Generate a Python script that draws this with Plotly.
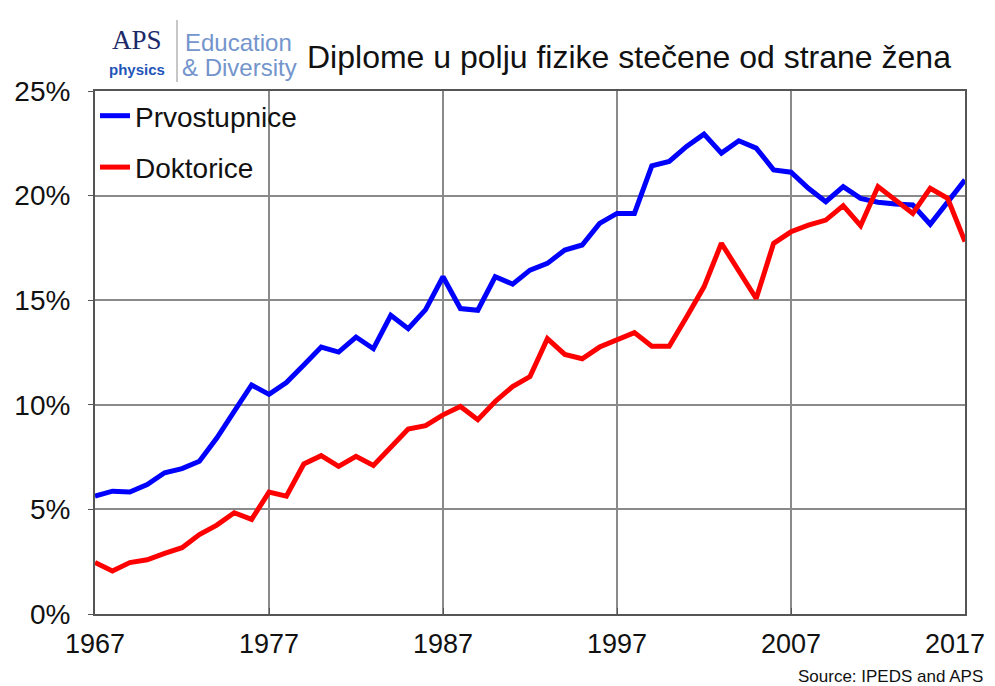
import plotly.graph_objects as go

years = list(range(1967, 2018))
prvostupnice = [5.63, 5.87, 5.83, 6.19, 6.75, 6.95, 7.3, 8.41, 9.68, 10.95,
                10.5, 11.06, 11.9, 12.76, 12.52, 13.24, 12.68, 14.28, 13.64, 14.55,
                16.12, 14.6, 14.52, 16.12, 15.77, 16.44, 16.76, 17.4, 17.64, 18.67,
                19.15, 19.15, 21.42, 21.63, 22.35, 22.94, 22.03, 22.62, 22.27, 21.23,
                21.12, 20.35, 19.71, 20.43, 19.87, 19.68, 19.6, 19.55, 18.63, 19.71,
                20.75]
doktorice = [2.46, 2.06, 2.46, 2.59, 2.9, 3.17, 3.8, 4.25, 4.84, 4.52,
             5.83, 5.63, 7.17, 7.57, 7.06, 7.54, 7.1, 7.94, 8.84, 9.0,
             9.52, 9.92, 9.29, 10.16, 10.87, 11.35, 13.16, 12.41, 12.2, 12.76,
             13.08, 13.45, 12.8, 12.8, 14.2, 15.64, 17.72, 16.44, 15.08, 17.72,
             18.27, 18.59, 18.83, 19.52, 18.56, 20.43, 19.79, 19.15, 20.35, 19.87,
             17.8]
x_ticks = [1967, 1977, 1987, 1997, 2007, 2017]
y_ticks = [0, 5, 10, 15, 20, 25]
y_labels = ["0%", "5%", "10%", "15%", "20%", "25%"]

title_text = "Diplome u polju fizike stečene od strane žena"
source_text = "Source: IPEDS and APS"

# page offset (browser body margin)
OFF = 8
W, H = 995, 686 - OFF
# plot area in page pixels: x 95..965, y 91..614
L = 95 - OFF
T = 91 - OFF
R = W - (965 - OFF)
B = H - (614 - OFF)
PW, PH = W - L - R, H - T - B

def px(x):  # page x -> paper
    return (x - OFF - L) / PW

def py(y):  # page y -> paper
    return (H - B - (y - OFF)) / PH

FONT = "Arial, Liberation Sans, sans-serif"

fig = go.Figure()
fig.add_trace(go.Scatter(x=years, y=prvostupnice, mode="lines", name="Prvostupnice",
                         legendgroup="a", line=dict(color="#0000ff", width=5)))
fig.add_trace(go.Scatter(x=years, y=doktorice, mode="lines", name="Doktorice",
                         legendgroup="b", xaxis="x2",
                         line=dict(color="#ff0000", width=5)))

fig.update_layout(
    width=W, height=H,
    margin=dict(l=L, r=R, t=T, b=B, autoexpand=False),
    paper_bgcolor="white", plot_bgcolor="white",
    font=dict(family=FONT, color="black"),
    legend=dict(x=0.0, y=1.0, xanchor="left", yanchor="top",
                font=dict(size=28, family=FONT, color="#111111"),
                bgcolor="rgba(0,0,0,0)", tracegroupgap=12),
    showlegend=True,
)
# main x axis: all ticks/grid, labels for all but the last
fig.update_xaxes(range=[1967, 2017], tickvals=x_ticks,
                 ticktext=[str(v) for v in x_ticks[:-1]] + [""],
                 tickfont=dict(size=27, family=FONT, color="#111111"),
                 showgrid=True, gridcolor="#8a8a8a", gridwidth=1.5,
                 showline=True, linecolor="#555555", linewidth=2, mirror=True,
                 ticks="inside", ticklen=6, tickcolor="#555555", zeroline=False,
                 ticklabelstandoff=5)
# overlay axis carrying only the last year label, nudged inward so it stays visible
fig.update_layout(xaxis2=dict(overlaying="x", matches="x", side="bottom", anchor="y",
                              range=[1967, 2017], tickvals=x_ticks[-1:],
                              ticktext=[str(x_ticks[-1])],
                              tickfont=dict(size=27, family=FONT, color="#111111"),
                              showgrid=False, showline=False, zeroline=False,
                              ticks="", ticklabelstandoff=11, ticklabelshift=-10,
                              ticklabeloverflow="allow"))
fig.update_yaxes(range=[0, 25], tickvals=y_ticks, ticktext=y_labels,
                 tickfont=dict(size=28, family=FONT, color="#111111"),
                 showgrid=True, gridcolor="#8a8a8a", gridwidth=1.5,
                 showline=True, linecolor="#555555", linewidth=2, mirror=True,
                 ticks="outside", ticklen=5, tickcolor="#555555", zeroline=False,
                 ticklabelstandoff=12)

anns = [
    dict(text=title_text, x=px(305), y=py(57), xanchor="left", yanchor="middle",
         font=dict(size=32, color="#111111", family=FONT)),
    dict(text="APS", x=px(137), y=py(40), xanchor="center", yanchor="middle",
         font=dict(size=27, color="#1c2a6a", family="Liberation Serif, serif")),
    dict(text="<b>physics</b>", x=px(137), y=py(70), xanchor="center", yanchor="middle",
         font=dict(size=15, color="#1f55b8", family=FONT)),
    dict(text="Education", x=px(183), y=py(43), xanchor="left", yanchor="middle",
         font=dict(size=24, color="#7395cc", family=FONT)),
    dict(text="&amp; Diversity", x=px(180), y=py(68), xanchor="left", yanchor="middle",
         font=dict(size=24, color="#7395cc", family=FONT)),
    dict(text=source_text, x=px(985), y=py(676), xanchor="right", yanchor="middle",
         font=dict(size=17, color="#111111", family=FONT)),
]
for a in anns:
    a.update(xref="paper", yref="paper", showarrow=False)
fig.update_layout(annotations=anns)

fig.add_shape(type="line", xref="paper", yref="paper",
              x0=px(177), x1=px(177), y0=py(20), y1=py(82),
              line=dict(color="#b5b5b5", width=1.5))

fig.write_html("out.html")
